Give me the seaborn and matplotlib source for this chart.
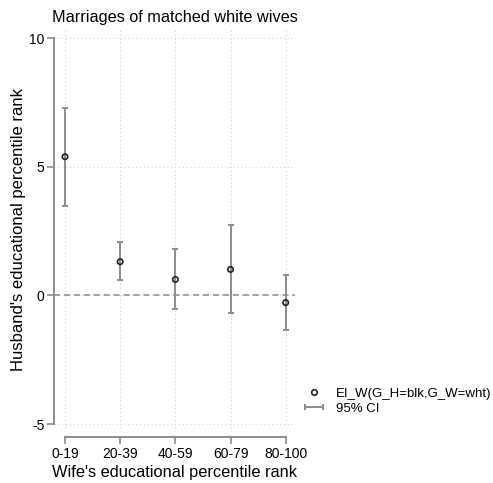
import numpy as np
import pandas as pd
import matplotlib
matplotlib.use("Agg")
import matplotlib.pyplot as plt
import seaborn as sns
from matplotlib.lines import Line2D
from matplotlib.legend_handler import HandlerLine2D

categories = ["0-19", "20-39", "40-59", "60-79", "80-100"]
estimate = [5.39, 1.31, 0.62, 1.01, -0.28]
ci_low = [3.49, 0.59, -0.54, -0.68, -1.33]
ci_high = [7.28, 2.06, 1.82, 2.75, 0.80]
y_ticks = [-5, 0, 5, 10]

sns.set_theme(style="white")
plt.rcParams["font.family"] = ["Liberation Sans", "DejaVu Sans"]
plt.rcParams["text.color"] = "black"
plt.rcParams["axes.labelcolor"] = "black"

df = pd.DataFrame({"pos": np.arange(len(categories)), "cat": categories,
                   "est": estimate, "lo": ci_low, "hi": ci_high})

fig = plt.figure(figsize=(4.93, 4.83), dpi=100)
ax = fig.add_axes([0.1095, 0.106, 0.4890, 0.836])

gray = "#8c8c8c"
# grid
for xv in df["pos"]:
    ax.axvline(xv, color="#cccccc", lw=0.7, ls=(0, (1, 3)), zorder=0)
for yv in y_ticks:
    ax.axhline(yv, color="#cccccc", lw=0.7, ls=(0, (1, 3)), zorder=0)
ax.axhline(0, color="#8c8c8c", lw=1.1, ls=(0, (4, 2.5)), zorder=1)

ax.errorbar(df["pos"], df["est"],
            yerr=[df["est"] - df["lo"], df["hi"] - df["est"]],
            fmt="none", ecolor=gray, elinewidth=1.4, capsize=2.5, capthick=1.4, zorder=2)
sns.scatterplot(data=df, x="pos", y="est", ax=ax, marker="o", s=15,
                facecolor="none", edgecolor="#222222", linewidth=1.2, zorder=3)

ax.set_xlim(-0.2, 4.17)
ax.set_ylim(-5.3, 10.39)
ax.set_xticks(df["pos"])
ax.set_xticklabels(categories)
ax.set_yticks(y_ticks)
ax.set_yticklabels([str(v) for v in y_ticks])

for s in ["top", "right"]:
    ax.spines[s].set_visible(False)
ax.spines["left"].set_bounds(-5, 10)
ax.spines["bottom"].set_bounds(0, 4)
ax.spines["bottom"].set_position(("outward", 4))
for s in ["left", "bottom"]:
    ax.spines[s].set_color(gray)
    ax.spines[s].set_linewidth(1.4)
ax.tick_params(axis="both", which="both", length=5, width=1.2, color=gray,
               labelsize=10, labelcolor="black", pad=2, direction="out")
ax.tick_params(left=True, bottom=True)

ax.set_xlabel("Wife's educational percentile rank", fontsize=11.8, labelpad=3)
ax.set_ylabel("Husband's educational percentile rank", fontsize=12, labelpad=2)
ax.set_title("Marriages of matched white wives", fontsize=11.7, pad=4)

h_pt = Line2D([], [], marker="o", ls="none", markerfacecolor="none",
              markeredgecolor="#222222", markersize=4, markeredgewidth=1.2)
h_ci = Line2D([], [], color=gray, lw=1.4, marker="|", markersize=5,
              markeredgewidth=1.4)
leg = fig.legend([h_pt, h_ci], ["EI_W(G_H=blk,G_W=wht)", "95% CI"],
                 loc="upper left", bbox_to_anchor=(0.61, 0.197), frameon=False,
                 fontsize=9.5, handlelength=2.0, handletextpad=0.7, labelspacing=0.2,
                 borderaxespad=0, borderpad=0,
                 handler_map={h_ci: HandlerLine2D(numpoints=2),
                              h_pt: HandlerLine2D(numpoints=1)})

fig.savefig("out.png", dpi=100)
